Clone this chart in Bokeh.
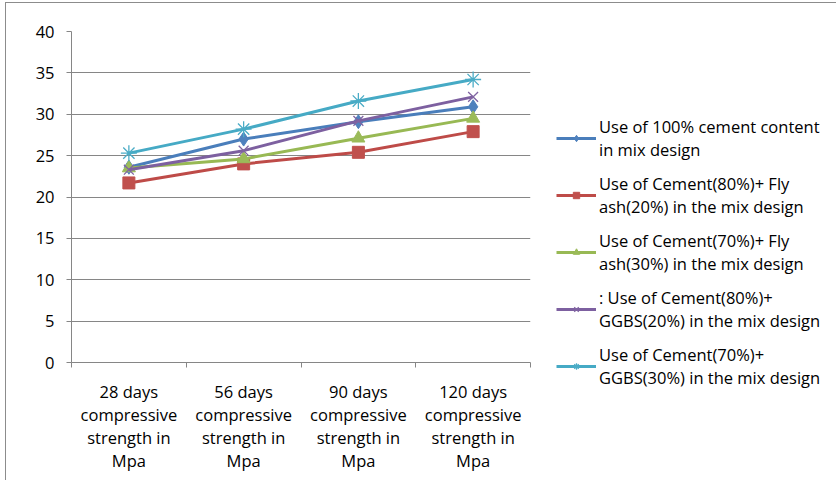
from bokeh.plotting import figure
from bokeh.models import Legend, LegendItem, FixedTicker, Range1d
from bokeh.embed import file_html
from bokeh.resources import INLINE

categories = [
    "28 days\ncompressive\nstrength in\nMpa",
    "56 days\ncompressive\nstrength in\nMpa",
    "90 days\ncompressive\nstrength in\nMpa",
    "120 days\ncompressive\nstrength in\nMpa",
]
y_ticks = [0, 5, 10, 15, 20, 25, 30, 35, 40]

series_names = [
    "Use of 100% cement content\nin mix design",
    "Use of Cement(80%)+ Fly\nash(20%) in the mix design",
    "Use of Cement(70%)+ Fly\nash(30%) in the mix design",
    ": Use of Cement(80%)+\nGGBS(20%) in the mix design",
    "Use of Cement(70%)+\nGGBS(30%) in the mix design",
]
cement_100 = [23.6, 27.0, 29.1, 30.9]
cement80_flyash20 = [21.7, 24.0, 25.4, 27.9]
cement70_flyash30 = [23.5, 24.6, 27.1, 29.5]
cement80_ggbs20 = [23.3, 25.6, 29.2, 32.1]
cement70_ggbs30 = [25.3, 28.2, 31.6, 34.2]

series_values = [cement_100, cement80_flyash20, cement70_flyash30,
                 cement80_ggbs20, cement70_ggbs30]
line_colors = ["#4A7EBB", "#BE4B48", "#98B954", "#7D60A0", "#46AAC5"]
marker_colors = ["#4F81BD", "#C0504D", "#9BBB59", "#8064A2", "#4BACC6"]
markers = ["diamond", "square", "triangle", "x", "asterisk"]
marker_sizes = [14, 12, 13, 14, 16]

FONT = "Open Sans"
FS = "16.5px"

p = figure(frame_width=459, frame_height=331, output_backend="svg", toolbar_location=None,
           x_range=Range1d(0, len(categories)), y_range=Range1d(0, 40),
           min_border_left=65, min_border_top=28, min_border_right=0,
           min_border_bottom=118)
p.margin = (2, 0, 0, 5)
p.styles = {"border-left": "1px solid #8c8c8c", "border-top": "1px solid #8c8c8c"}
p.outline_line_color = None
p.background_fill_color = "white"
p.border_fill_color = "white"

centers = [i + 0.5 for i in range(len(categories))]
p.xaxis.ticker = FixedTicker(ticks=centers, minor_ticks=list(range(len(categories) + 1)))
p.xaxis.major_label_overrides = {c: lab for c, lab in zip(centers, categories)}
p.xaxis.major_tick_line_color = None
p.xaxis.minor_tick_in = 0
p.xaxis.minor_tick_out = 5
p.xaxis.minor_tick_line_color = "#868686"
p.xaxis.axis_line_color = "#868686"
p.xaxis.major_label_standoff = 11
p.xaxis.major_label_text_font = FONT
p.xaxis.major_label_text_font_size = FS
p.xaxis.major_label_text_color = "#000000"
p.xaxis.major_label_text_line_height = 1.0

p.yaxis.ticker = FixedTicker(ticks=y_ticks)
p.yaxis.minor_tick_line_color = None
p.yaxis.major_tick_in = 0
p.yaxis.major_tick_out = 5
p.yaxis.major_tick_line_color = "#868686"
p.yaxis.axis_line_color = "#868686"
p.yaxis.major_label_text_font = FONT
p.yaxis.major_label_text_font_size = FS
p.yaxis.major_label_text_color = "#000000"
p.yaxis.major_label_standoff = 12

p.xgrid.grid_line_color = None
p.ygrid.grid_line_color = "#868686"
p.ygrid.grid_line_width = 1

items = []
for name, vals, lc, mc, mk, ms in zip(series_names, series_values, line_colors,
                                      marker_colors, markers, marker_sizes):
    r1 = p.line(centers, vals, line_color=lc, line_width=3)
    if mk in ("x", "asterisk"):
        r2 = p.scatter(centers, vals, marker=mk, size=ms, line_color=mc, line_width=1.3)
    else:
        r2 = p.scatter(centers, vals, marker=mk, size=ms, fill_color=mc, line_color=mc)
    items.append(LegendItem(label=name, renderers=[r1, r2]))

legend = Legend(items=items, location=(26, -27), border_line_color=None,
                background_fill_alpha=0, padding=0, margin=0, spacing=11,
                glyph_width=40, glyph_height=16, label_standoff=3,
                label_text_font=FONT, label_text_font_size=FS,
                label_text_color="#000000")
p.add_layout(legend, "right")

open("out.html", "w").write(file_html(p, INLINE))
